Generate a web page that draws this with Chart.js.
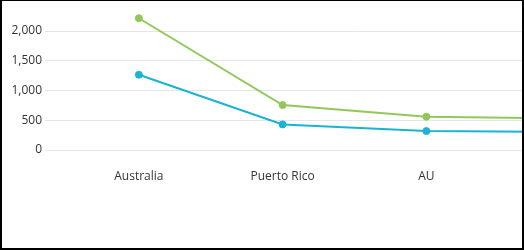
<!DOCTYPE html>
<html>
<head>
<meta charset="utf-8">
<script src="https://cdn.jsdelivr.net/npm/chart.js@4"></script>
<style>
  html, body { margin: 0; padding: 0; background: #fff; }
  #frame { position: relative; width: 524px; height: 250px; overflow: hidden; }
  #box { position: absolute; left: 0; top: 0; width: 647px; height: 250px; }
  #edge { position: absolute; left: 0; top: 0; width: 524px; height: 250px; box-sizing: border-box;
          border-style: solid; border-color: #000; border-width: 1px 2px 2px 2px; pointer-events: none; }
</style>
</head>
<body>
<div id="frame">
  <div id="box"><canvas id="chart"></canvas></div>
  <div id="edge"></div>
</div>
<script>
// categories (the 4th one is cut off at the right edge of the picture)
const countries = ['Australia', 'Puerto Rico', 'AU', 'United States'];
const sessions = [2215, 755, 560, 528];
const users = [1265, 430, 318, 304];
const yTicks = [0, 500, 1000, 1500, 2000];

const green = '#92c85a';
const blue = '#1ab3d5';

const ctx = document.getElementById('chart').getContext('2d');
new Chart(ctx, {
    type: 'line',
    data: {
        labels: countries,
        datasets: [
            {
                label: 'Sessions',
                data: sessions,
                borderColor: green,
                backgroundColor: green,
                pointBackgroundColor: green,
                pointBorderColor: green,
                borderWidth: 2,
                pointRadius: 3.5,
                pointBorderWidth: 1,
                tension: 0,
                fill: false,
            },
            {
                label: 'Users',
                data: users,
                borderColor: blue,
                backgroundColor: blue,
                pointBackgroundColor: blue,
                pointBorderColor: blue,
                borderWidth: 2,
                pointRadius: 3.5,
                pointBorderWidth: 1,
                tension: 0,
                fill: false,
            },
        ],
    },
    options: {
        responsive: true,
        maintainAspectRatio: false,
        animation: false,
        layout: { padding: { top: 8, left: 0, right: 0, bottom: 0 } },
        plugins: {
            legend: { display: false },
            tooltip: { enabled: false },
        },
        scales: {
            x: {
                offset: true,
                grid: { display: false, drawTicks: false, offset: true },
                border: { display: false },
                ticks: {
                    padding: 19,
                    color: '#333',
                    font: { family: 'Open Sans', size: 12 },
                    maxRotation: 0,
                },
                afterFit: (scale) => { scale.height = 100; },
            },
            y: {
                min: 0,
                max: 2350,
                grid: { color: '#e6e6e6', lineWidth: 1, drawTicks: true, tickLength: 22 },
                border: { display: false },
                ticks: {
                    stepSize: 500,
                    padding: 3,
                    color: '#333',
                    font: { family: 'Open Sans', size: 12 },
                    callback: (v) => v.toLocaleString('en-US'),
                },
                afterBuildTicks: (scale) => {
                    scale.ticks = yTicks.map(v => ({ value: v }));
                },
                afterFit: (scale) => { scale.width = 67; },
            },
        },
    },
});
</script>
</body>
</html>
